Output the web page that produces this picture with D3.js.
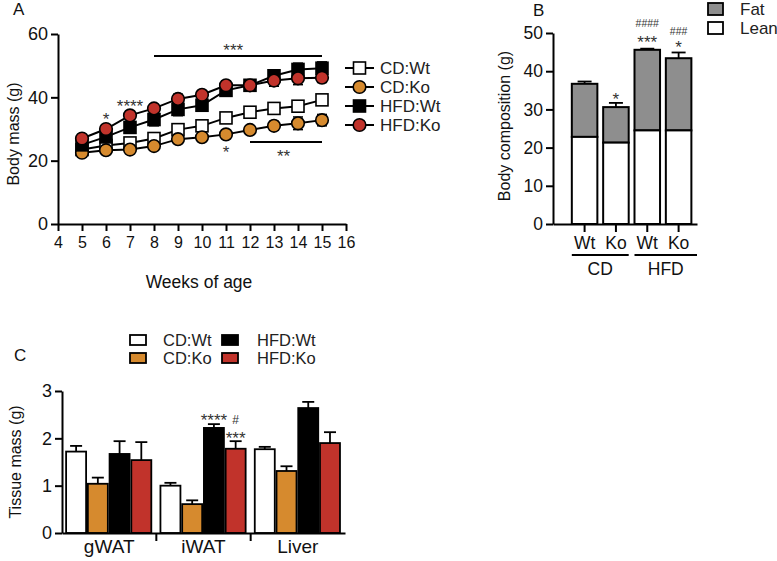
<!DOCTYPE html>
<html>
<head>
<meta charset="utf-8">
<script src="https://d3js.org/d3.v7.min.js"></script>
<style>
  body { margin: 0; background: #fff; }
  svg { font-family: "Liberation Sans", Arial, sans-serif; }
  .axis path, .axis line { stroke: #000; stroke-width: 2; }
  .axis text { fill: #111; }
</style>
</head>
<body>
<svg id="fig" width="777" height="561"></svg>
<script>
// ---- panel A: body mass over time ----
const weeks = [5, 6, 7, 8, 9, 10, 11, 12, 13, 14, 15];
const cdWt = [23.5, 24.8, 25.6, 27, 29.8, 31, 33.5, 35.3, 36.5, 37.2, 39.2];
const cdWtErr = [0.6, 0.6, 0.6, 0.8, 0.9, 1, 1, 1, 1, 1.2, 1.3];
const cdKo = [22.5, 23.3, 23.5, 24.6, 26.8, 27.4, 28.3, 29.7, 31, 31.8, 32.8];
const cdKoErr = [0.5, 0.6, 0.7, 0.8, 0.9, 1, 1, 1.2, 1.4, 2, 1.8];
const hfdWt = [25, 27.5, 30.5, 33, 36.2, 37.5, 42.2, 43.8, 46.8, 48.8, 49.2];
const hfdWtErr = [0.8, 1, 1.5, 2, 2, 1.5, 1.5, 1.5, 1.8, 2, 2];
const hfdKo = [27, 30, 34.3, 36.5, 39.5, 40.8, 43.8, 43.8, 45.3, 46, 46.2];
const hfdKoErr = [0.8, 1, 1, 1.2, 1.5, 1.3, 1.3, 1.2, 1.8, 2, 1.5];
const weekTicks = [4, 5, 6, 7, 8, 9, 10, 11, 12, 13, 14, 15, 16];
const massTicks = [0, 20, 40, 60];

// ---- panel B: body composition ----
const compGroups = ['CD:Wt', 'CD:Ko', 'HFD:Wt', 'HFD:Ko'];
const leanVals = [22.8, 21.3, 24.5, 24.5];
const leanErr = [0.5, 1.3, 0.3, 0.6];
const fatVals = [13.9, 9.3, 21.1, 18.9];
const fatErr = [0.6, 1.1, 0.3, 1.5];
const compTicks = [0, 10, 20, 30, 40, 50];

// ---- panel C: tissue mass ----
const tissues = ['gWAT', 'iWAT', 'Liver'];
const tissueGroups = ['CD:Wt', 'CD:Ko', 'HFD:Wt', 'HFD:Ko'];
const tissueVals = [
  [1.72, 1.04, 1.67, 1.54],
  [1.0, 0.61, 2.22, 1.78],
  [1.77, 1.31, 2.64, 1.9]
];
const tissueErr = [
  [0.12, 0.13, 0.27, 0.38],
  [0.06, 0.08, 0.08, 0.16],
  [0.05, 0.1, 0.13, 0.23]
];
const tissueTicks = [0, 1, 2, 3];

const colors = { 'CD:Wt': '#ffffff', 'CD:Ko': '#d68a2e', 'HFD:Wt': '#000000', 'HFD:Ko': '#c1332b' };
const starColor = '#333';

const svg = d3.select('#fig');

function panelLabel(t, x, y) {
  svg.append('text').attr('x', x).attr('y', y).attr('font-size', 17).attr('fill', '#111').text(t);
}
function yTitle(t, x, y) {
  svg.append('text').attr('transform', 'translate(' + x + ',' + y + ') rotate(-90)')
    .attr('text-anchor', 'middle').attr('font-size', 16).attr('fill', '#111').text(t);
}
// stars: y given as visual centre of the glyphs
function stars(t, x, cy) {
  svg.append('text').attr('x', x).attr('y', cy + 9.5).attr('text-anchor', 'middle')
    .attr('font-size', 17).attr('fill', starColor).text(t);
}
function hashes(t, x, cy, size) {
  svg.append('text').attr('x', x).attr('y', cy + 4).attr('text-anchor', 'middle')
    .attr('font-size', size || 10.5).attr('fill', starColor).text(t);
}

// ================= Panel A =================
{
  const x = d3.scaleLinear().domain([4, 16]).range([58, 346]);
  const y = d3.scaleLinear().domain([0, 60]).range([224, 34]);

  svg.append('g').classed('axis', true).attr('transform', 'translate(0,' + y(0) + ')')
    .call(d3.axisBottom(x).tickValues(weekTicks).tickSize(7).tickSizeOuter(0).tickPadding(6))
    .selectAll('text').attr('font-size', 16);
  svg.append('g').classed('axis', true).attr('transform', 'translate(' + x(4) + ',0)')
    .call(d3.axisLeft(y).tickValues(massTicks).tickSize(7).tickSizeOuter(0).tickPadding(3))
    .selectAll('text').attr('font-size', 18);

  const series = [
    { name: 'CD:Wt', vals: cdWt, err: cdWtErr, shape: 'square' },
    { name: 'CD:Ko', vals: cdKo, err: cdKoErr, shape: 'circle' },
    { name: 'HFD:Wt', vals: hfdWt, err: hfdWtErr, shape: 'square' },
    { name: 'HFD:Ko', vals: hfdKo, err: hfdKoErr, shape: 'circle' }
  ];
  const line = d3.line().x((d, i) => x(weeks[i])).y(d => y(d));

  series.forEach(s => {
    const g = svg.append('g');
    g.append('path').datum(s.vals).attr('d', line).attr('fill', 'none').attr('stroke', '#000').attr('stroke-width', 2);
    s.vals.forEach((v, i) => {
      const cx = x(weeks[i]);
      g.append('line').attr('x1', cx).attr('x2', cx).attr('y1', y(v - s.err[i])).attr('y2', y(v + s.err[i]))
        .attr('stroke', '#000').attr('stroke-width', 1.5);
      [v - s.err[i], v + s.err[i]].forEach(e => {
        g.append('line').attr('x1', cx - 5).attr('x2', cx + 5).attr('y1', y(e)).attr('y2', y(e))
          .attr('stroke', '#000').attr('stroke-width', 1.5);
      });
    });
    s.vals.forEach((v, i) => {
      const cx = x(weeks[i]), cy = y(v);
      if (s.shape === 'square') {
        g.append('rect').attr('x', cx - 6).attr('y', cy - 6).attr('width', 12).attr('height', 12)
          .attr('fill', colors[s.name]).attr('stroke', '#000').attr('stroke-width', 1.6);
      } else {
        g.append('circle').attr('cx', cx).attr('cy', cy).attr('r', 6.3)
          .attr('fill', colors[s.name]).attr('stroke', '#000').attr('stroke-width', 1.6);
      }
    });
  });

  // significance marks
  svg.append('line').attr('x1', x(8)).attr('x2', x(15)).attr('y1', 56).attr('y2', 56).attr('stroke', '#000').attr('stroke-width', 2);
  stars('***', x(11.3), 46);
  stars('*', x(6), 115);
  stars('****', x(7), 102);
  svg.append('line').attr('x1', x(12)).attr('x2', x(15)).attr('y1', 142).attr('y2', 142).attr('stroke', '#000').attr('stroke-width', 2);
  stars('*', x(11), 148);
  stars('**', x(13.4), 152);

  // legend
  series.forEach((s, i) => {
    const ly = 68 + i * 19;
    svg.append('line').attr('x1', 345).attr('x2', 374).attr('y1', ly).attr('y2', ly).attr('stroke', '#000').attr('stroke-width', 2);
    if (s.shape === 'square') {
      svg.append('rect').attr('x', 353.5).attr('y', ly - 6).attr('width', 12).attr('height', 12)
        .attr('fill', colors[s.name]).attr('stroke', '#000').attr('stroke-width', 1.6);
    } else {
      svg.append('circle').attr('cx', 359.5).attr('cy', ly).attr('r', 6.3)
        .attr('fill', colors[s.name]).attr('stroke', '#000').attr('stroke-width', 1.6);
    }
    svg.append('text').attr('x', 380).attr('y', ly + 6).attr('font-size', 17).attr('fill', '#222').text(s.name);
  });

  panelLabel('A', 13, 15);
  yTitle('Body mass (g)', 19, 134);
  svg.append('text').attr('x', 199).attr('y', 288).attr('text-anchor', 'middle').attr('font-size', 17.5).attr('fill', '#111').text('Weeks of age');
}

// ================= Panel B =================
{
  const y = d3.scaleLinear().domain([0, 50]).range([224, 33]);
  const x = d3.scaleBand().domain(compGroups).range([553, 697])
    .paddingInner(0.185).paddingOuter(0.39).align(0.77);
  const bw = x.bandwidth();

  compGroups.forEach((gName, i) => {
    const x0 = x(gName), xc = x0 + bw / 2;
    const top = leanVals[i] + fatVals[i];
    // error bars (behind)
    [[top, fatErr[i]], [leanVals[i], leanErr[i]]].forEach(([v, e]) => {
      svg.append('line').attr('x1', xc).attr('x2', xc).attr('y1', y(v)).attr('y2', y(v + e)).attr('stroke', '#000').attr('stroke-width', 1.8);
      svg.append('line').attr('x1', xc - 7).attr('x2', xc + 7).attr('y1', y(v + e)).attr('y2', y(v + e)).attr('stroke', '#000').attr('stroke-width', 1.8);
    });
    svg.append('rect').attr('x', x0).attr('y', y(top)).attr('width', bw).attr('height', y(leanVals[i]) - y(top))
      .attr('fill', '#8e8e8e').attr('stroke', '#000').attr('stroke-width', 2);
    svg.append('rect').attr('x', x0).attr('y', y(leanVals[i])).attr('width', bw).attr('height', y(0) - y(leanVals[i]))
      .attr('fill', '#fff').attr('stroke', '#000').attr('stroke-width', 2);
  });

  svg.append('g').classed('axis', true).attr('transform', 'translate(0,' + y(0) + ')')
    .call(d3.axisBottom(x).tickSize(8).tickSizeOuter(0).tickPadding(5).tickFormat(d => d.split(':')[1]))
    .selectAll('text').attr('font-size', 17.5);
  svg.append('g').classed('axis', true).attr('transform', 'translate(553,0)')
    .call(d3.axisLeft(y).tickValues(compTicks).tickSize(7).tickSizeOuter(0).tickPadding(3))
    .selectAll('text').attr('font-size', 17.5);

  // diet group underlines
  [['CD', 'CD:Wt', 'CD:Ko'], ['HFD', 'HFD:Wt', 'HFD:Ko']].forEach(([lab, a, b]) => {
    const x1 = x(a), x2 = lab === 'HFD' ? x.range()[1] : x(b) + bw;
    svg.append('line').attr('x1', x1).attr('x2', x2).attr('y1', 255).attr('y2', 255).attr('stroke', '#000').attr('stroke-width', 1.8);
    svg.append('text').attr('x', (x1 + x2) / 2).attr('y', 275).attr('text-anchor', 'middle').attr('font-size', 17.5).attr('fill', '#111').text(lab);
  });

  const c = g => x(g) + bw / 2;
  stars('*', c('CD:Ko'), 95);
  hashes('####', c('HFD:Wt'), 23);
  stars('***', c('HFD:Wt'), 38);
  hashes('###', c('HFD:Ko'), 31);
  stars('*', c('HFD:Ko'), 43);

  // legend
  [['Fat', '#8e8e8e'], ['Lean', '#fff']].forEach(([lab, col], i) => {
    const ly = 3 + i * 19;
    svg.append('rect').attr('x', 708).attr('y', ly).attr('width', 15).attr('height', 12)
      .attr('fill', col).attr('stroke', '#000').attr('stroke-width', 1.8);
    svg.append('text').attr('x', 740).attr('y', ly + 12).attr('font-size', 17).attr('fill', '#222').text(lab);
  });

  panelLabel('B', 533, 16);
  yTitle('Body composition (g)', 510, 126);
}

// ================= Panel C =================
{
  const y = d3.scaleLinear().domain([0, 3]).range([533, 391]);
  const x0 = d3.scaleBand().domain(tissues).range([62, 345]);
  const x1 = d3.scaleBand().domain(tissueGroups).range([0, x0.bandwidth()])
    .paddingInner(0.08).paddingOuter(0.21).align(0.45);
  const bw = x1.bandwidth();

  tissues.forEach((t, ti) => {
    tissueGroups.forEach((gName, gi) => {
      const v = tissueVals[ti][gi], e = tissueErr[ti][gi];
      const bx = x0(t) + x1(gName), xc = bx + bw / 2;
      svg.append('line').attr('x1', xc).attr('x2', xc).attr('y1', y(v)).attr('y2', y(v + e)).attr('stroke', '#000').attr('stroke-width', 1.8);
      svg.append('line').attr('x1', xc - 6).attr('x2', xc + 6).attr('y1', y(v + e)).attr('y2', y(v + e)).attr('stroke', '#000').attr('stroke-width', 1.8);
      svg.append('rect').attr('x', bx).attr('y', y(v)).attr('width', bw).attr('height', y(0) - y(v))
        .attr('fill', colors[gName]).attr('stroke', '#000').attr('stroke-width', 1.8);
    });
  });

  const xa = svg.append('g').classed('axis', true).attr('transform', 'translate(0,' + y(0) + ')')
    .call(d3.axisBottom(x0).tickSize(0).tickSizeOuter(0).tickPadding(7));
  xa.selectAll('text').attr('font-size', 19);
  // separators between tissue groups
  tissues.slice(1).forEach(t => {
    svg.append('line').attr('x1', x0(t)).attr('x2', x0(t)).attr('y1', y(0)).attr('y2', y(0) + 8).attr('stroke', '#000').attr('stroke-width', 2);
  });
  svg.append('g').classed('axis', true).attr('transform', 'translate(62,0)')
    .call(d3.axisLeft(y).tickValues(tissueTicks).tickFormat(d3.format('d')).tickSize(7).tickSizeOuter(0).tickPadding(3))
    .selectAll('text').attr('font-size', 18);

  const c = (t, g) => x0(t) + x1(g) + bw / 2;
  stars('****', c('iWAT', 'HFD:Wt'), 416);
  hashes('#', c('iWAT', 'HFD:Ko'), 420, 12);
  stars('***', c('iWAT', 'HFD:Ko'), 434);

  // legend
  tissueGroups.forEach((gName, i) => {
    const lx = i < 2 ? 130 : 222, ly = 335 + (i % 2) * 18;
    svg.append('rect').attr('x', lx).attr('y', ly).attr('width', 16).attr('height', 10)
      .attr('fill', colors[gName]).attr('stroke', '#000').attr('stroke-width', 1.8);
    svg.append('text').attr('x', lx + (i < 2 ? 33 : 35)).attr('y', ly + 11).attr('font-size', 16.5).attr('fill', '#222').text(gName);
  });

  panelLabel('C', 14, 361);
  yTitle('Tissue mass (g)', 21, 462);
}
</script>
</body>
</html>
